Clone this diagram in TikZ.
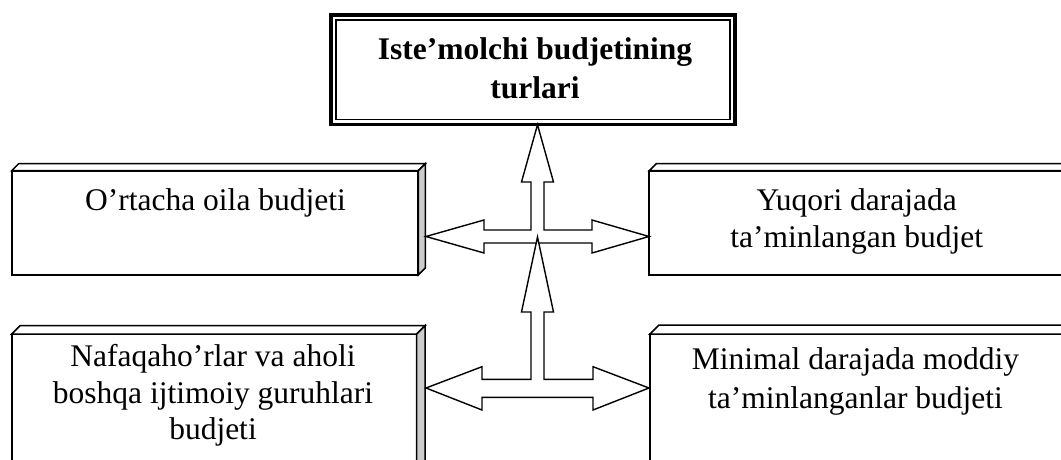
\documentclass[tikz,border=0pt]{standalone}
\usepackage{fontspec}
\setmainfont{Liberation Serif}
\usetikzlibrary{calc}
\definecolor{sidegrey}{RGB}{204,204,204}
\tikzset{
  front/.style={draw, line width=1.8pt, fill=white, inner sep=0pt, outer sep=0pt, anchor=north west},
  bevel/.style={draw, line width=1.5pt, line join=miter},
  boxtext/.style={align=center, inner sep=0pt, anchor=base, font=\fontsize{31.5}{37}\selectfont},
  titletext/.style={align=center, inner sep=0pt, anchor=base, font=\fontsize{31.5}{39}\selectfont\bfseries},
  blockarrow/.style={draw, fill=white, line width=1.4pt, line join=miter}
}
\begin{document}
\begin{tikzpicture}[x=1pt,y=-1pt]
\useasboundingbox (0,0) rectangle (1061,460);
\clip (0,0) rectangle (1061,460);

% title
\node[draw, line width=3.5pt, inner sep=0pt, outer sep=0pt, minimum width=404pt, minimum height=109.7pt, anchor=north west] (title) at (331,15) {};
\draw[line width=1.2pt] ($(title.north west)+(5,5)$) rectangle ($(title.south east)+(-5,-5)$);
% anchor=base of a multi-line node is the baseline of its last line
\node[titletext] (ttext) at (535,98.3) {Iste’molchi budjetining\\turlari};

% 3D boxes (front faces)
\node[front, minimum width=406.6pt, minimum height=104.3pt] (b1) at (11.7,170.7) {};
\node[front, minimum width=415pt, minimum height=104.3pt] (b2) at (649.3,170.7) {};
\node[front, minimum width=405pt, minimum height=150pt] (b3) at (11.7,334) {};
\node[front, minimum width=415pt, minimum height=150pt] (b4) at (650,334) {};

% top and side faces
\foreach \b/\d in {b1/7,b2/7,b3/8.5,b4/9}{
  \draw[bevel, fill=white] (\b.north west) -- ++(\d,-\d) -- ($(\b.north east)+(\d,-\d)$) -- (\b.north east) -- cycle;
  \draw[bevel, fill=sidegrey] (\b.north east) -- ++(\d,-\d) -- ($(\b.south east)+(\d,-\d)$) -- (\b.south east) -- cycle;
}

\node[boxtext] (t1) at (215.5,210) {O’rtacha oila budjeti};
\node[boxtext] (t2) at (856.7,247) {Yuqori darajada\\ta’minlangan budjet};
\node[boxtext, font=\fontsize{31.5}{36.3}\selectfont] (t3) at (213,439.3) {Nafaqaho’rlar va aholi\\boshqa ijtimoiy guruhlari\\budjeti};
\node[boxtext, font=\fontsize{31.5}{39}\selectfont] (t4) at (855.5,408.3) {Minimal darajada moddiy\\ta’minlanganlar budjeti};

% block arrows
\coordinate (tipL1) at (426,236.5);
\coordinate (tipR1) at (649,236.5);
\coordinate (tipU1) at (537.5,124.7);
\draw[blockarrow] (tipL1) -- (484,220) -- (484,230) -- (531,230) -- (531,182) -- (521.5,182)
  -- (tipU1) -- (553.5,182) -- (544,182) -- (544,230) -- (592,230) -- (592,220)
  -- (tipR1) -- (592,253) -- (592,243) -- (484,243) -- (484,253) -- cycle;

\coordinate (tipL2) at (426,388);
\coordinate (tipR2) at (649,388);
\coordinate (tipU2) at (537.5,237);
\draw[blockarrow] (tipL2) -- (482,366.7) -- (482,379.3) -- (531,379.3) -- (531,312) -- (521.5,312)
  -- (tipU2) -- (553.5,312) -- (544,312) -- (544,379.3) -- (593,379.3) -- (593,366.7)
  -- (tipR2) -- (593,410) -- (593,397.3) -- (482,397.3) -- (482,410) -- cycle;
\end{tikzpicture}
\end{document}
